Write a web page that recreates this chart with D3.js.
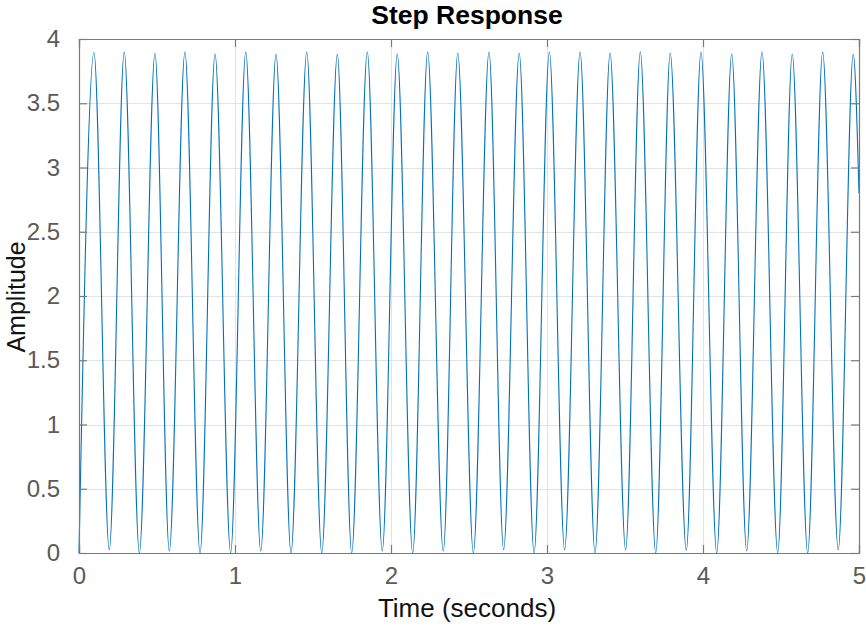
<!DOCTYPE html>
<html>
<head>
<meta charset="utf-8">
<script src="https://cdn.jsdelivr.net/npm/d3@7"></script>
<style>
  html, body { margin: 0; padding: 0; background: #fff; }
  svg { display: block; font-family: "Liberation Sans", Arial, Helvetica, sans-serif; }
</style>
</head>
<body>
<svg id="chart" width="866" height="628"></svg>
<script>
// ---- Data (extrema of the oscillation) ----
const title = "Step Response";
const xLabel = "Time (seconds)";
const yLabel = "Amplitude";
const xTicks = [0, 1, 2, 3, 4, 5];
const yTicks = [0, 0.5, 1, 1.5, 2, 2.5, 3, 3.5, 4];

const peakTimes = [0.096, 0.290, 0.487, 0.679, 0.872, 1.069, 1.263, 1.460, 1.656, 1.848,
                   2.040, 2.235, 2.428, 2.628, 2.822, 3.015, 3.212, 3.404, 3.598, 3.790,
                   3.987, 4.184, 4.378, 4.572, 4.767, 4.963];
const peakValues = [3.895, 3.899, 3.889, 3.899, 3.883, 3.899, 3.881, 3.899, 3.881, 3.899,
                    3.883, 3.899, 3.889, 3.899, 3.889, 3.899, 3.899, 3.891, 3.899, 3.889,
                    3.899, 3.883, 3.899, 3.881, 3.899, 3.881];
const troughTimes = [0.000, 0.194, 0.387, 0.579, 0.776, 0.972, 1.165, 1.359, 1.556, 1.748,
                     1.944, 2.139, 2.335, 2.528, 2.722, 2.917, 3.113, 3.308, 3.504, 3.697,
                     3.893, 4.088, 4.280, 4.479, 4.671, 4.867];
const troughValues = [0.000, 0.025, 0.000, 0.015, 0.000, 0.000, 0.015, 0.000, 0.000, 0.000,
                      0.015, 0.000, 0.015, 0.000, 0.025, 0.000, 0.025, 0.000, 0.025, 0.000,
                      0.020, 0.000, 0.015, 0.000, 0.000, 0.025];
const endTime = 5.0;
const endValue = 2.8;

// ---- Layout ----
const W = 866, H = 628;
const margin = { left: 79, right: 7, top: 39, bottom: 75 };
const iw = W - margin.left - margin.right;
const ih = H - margin.top - margin.bottom;

const axisColor = "#7a7a7a";
const tickTextColor = "#5a5a5a";
const gridColor = "#e3e3e3";
const lineColor = "#0072BD";

const x = d3.scaleLinear().domain([0, 5]).range([0, iw]);
const y = d3.scaleLinear().domain([0, 4]).range([ih, 0]);

const svg = d3.select("#chart");
const g = svg.append("g").attr("transform", `translate(${margin.left},${margin.top})`);

// grid
g.append("g").selectAll("line").data(xTicks.slice(1, -1)).join("line")
  .attr("x1", d => x(d) + 0.5).attr("x2", d => x(d) + 0.5)
  .attr("y1", 0).attr("y2", ih)
  .attr("stroke", gridColor).attr("stroke-width", 1);
g.append("g").selectAll("line").data(yTicks.slice(1, -1)).join("line")
  .attr("y1", d => Math.round(y(d)) + 0.5).attr("y2", d => Math.round(y(d)) + 0.5)
  .attr("x1", 0).attr("x2", iw)
  .attr("stroke", gridColor).attr("stroke-width", 1);

// data
const pts = [];
peakTimes.forEach((t, i) => pts.push({ t, v: peakValues[i] }));
troughTimes.forEach((t, i) => pts.push({ t, v: troughValues[i] }));
pts.push({ t: endTime, v: endValue });
pts.sort((a, b) => a.t - b.t);

const line = d3.line()
  .x(d => x(d.t))
  .y(d => y(d.v))
  .curve(d3.curveMonotoneX);

g.append("path")
  .datum(pts)
  .attr("fill", "none")
  .attr("stroke", lineColor)
  .attr("stroke-width", 1.1)
  .attr("d", line);

// axes
const tickSize = 8;
const fmt = d => String(d);

const xAxisB = d3.axisBottom(x).tickValues(xTicks).tickSize(-tickSize).tickPadding(14).tickFormat(fmt);
const xAxisT = d3.axisTop(x).tickValues(xTicks).tickSize(-tickSize).tickFormat("");
const yAxisL = d3.axisLeft(y).tickValues(yTicks).tickSize(-tickSize).tickPadding(19).tickFormat(fmt);
const yAxisR = d3.axisRight(y).tickValues(yTicks).tickSize(-tickSize).tickFormat("");

function style(sel) {
  sel.select(".domain").attr("stroke", axisColor).attr("stroke-width", 1.2);
  sel.selectAll(".tick line").attr("stroke", axisColor).attr("stroke-width", 1.2);
  sel.selectAll(".tick text").attr("fill", tickTextColor)
    .style("font-size", "24px").style("font-family", '"Liberation Sans", Arial, sans-serif');
}

g.append("g").attr("transform", `translate(0,${ih})`).call(xAxisB).call(style);
g.append("g").call(xAxisT).call(style);
g.append("g").call(yAxisL).call(style);
g.append("g").attr("transform", `translate(${iw},0)`).call(yAxisR).call(style);

// title & labels
svg.append("text")
  .attr("x", margin.left + iw / 2 - 2).attr("y", 24)
  .attr("text-anchor", "middle")
  .attr("font-weight", "bold").attr("font-size", 26.5).attr("fill", "#000")
  .text(title);

svg.append("text")
  .attr("x", margin.left + iw / 2 - 2).attr("y", 617)
  .attr("text-anchor", "middle")
  .attr("font-size", 26).attr("fill", "#111")
  .text(xLabel);

svg.append("text")
  .attr("transform", `translate(24.5,${margin.top + ih / 2 + 1}) rotate(-90)`)
  .attr("text-anchor", "middle")
  .attr("font-size", 25).attr("fill", "#111")
  .text(yLabel);
</script>
</body>
</html>
